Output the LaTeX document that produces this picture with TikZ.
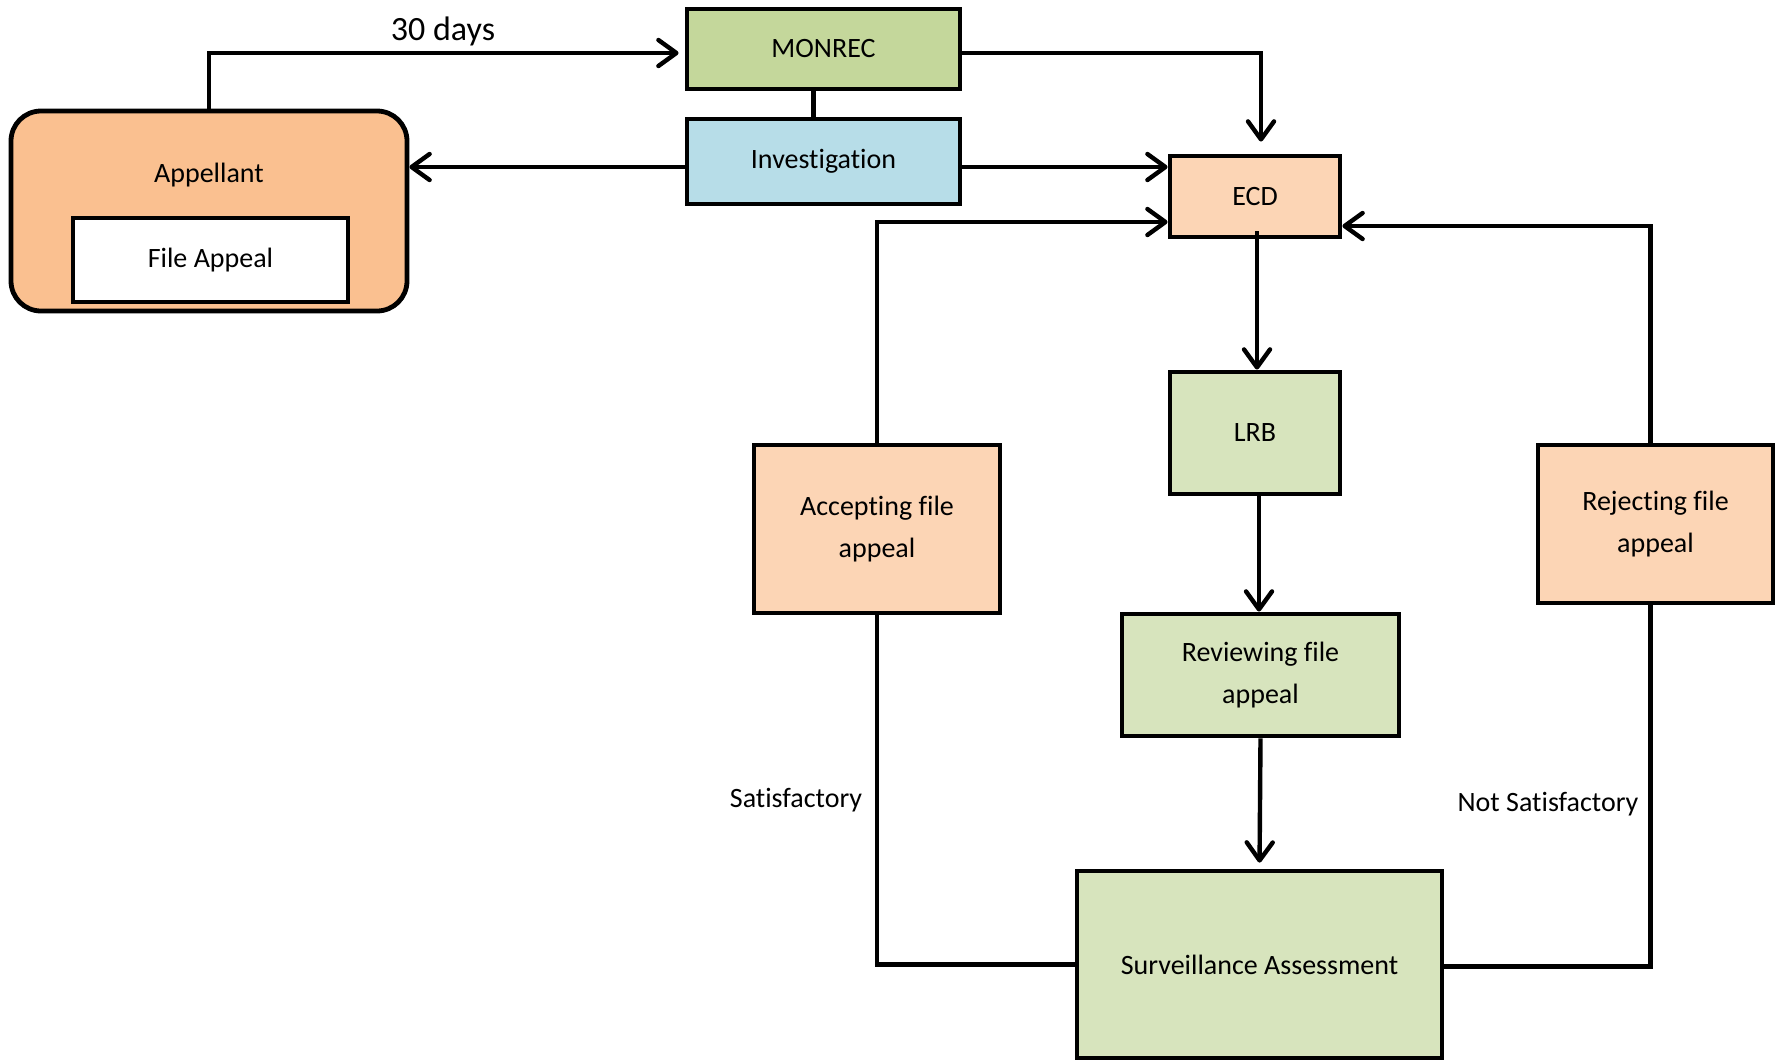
\documentclass[tikz,border=0pt]{standalone}
\usepackage{fontspec}
\setmainfont{Carlito}[Ligatures={NoCommon}]
\usetikzlibrary{arrows.meta,calc}
\definecolor{cmonrec}{HTML}{C4D79B}
\definecolor{cinv}{HTML}{B7DDE8}
\definecolor{capp}{HTML}{FAC090}
\definecolor{corange}{HTML}{FCD5B5}
\definecolor{cgreen}{HTML}{D7E4BD}
\tikzset{
  box/.style={draw=black,line width=2.4pt,inner sep=0pt,align=center,font=\fontsize{14}{21}\selectfont},
  conn/.style={line width=2.2pt},
  arr/.style={conn,-{Straight Barb[length=9pt,width=13pt,line width=2.2pt,round]}},
  lbl/.style={font=\fontsize{14}{16}\selectfont,inner sep=0pt}
}
\begin{document}
\begin{tikzpicture}[x=0.5pt,y=-0.5pt]
\useasboundingbox (0,0) rectangle (1781,1061);
% nodes
\node[box,fill=cmonrec,minimum width=136.5pt,minimum height=40pt] (monrec) at (823.5,49) {MONREC};
\node[box,fill=cinv,minimum width=136.5pt,minimum height=42.5pt] (inv) at (823.5,161.5) {Investigation};
\node[box,fill=capp,rounded corners=15pt,minimum width=198pt,minimum height=100pt] (app) at (209,211) {};
\node[lbl] (applbl) at (209,175) {Appellant};
\node[box,fill=white,minimum width=137.5pt,minimum height=42pt] (fa) at (210.5,260) {File Appeal};
\node[box,fill=corange,minimum width=85pt,minimum height=40.5pt] (ecd) at (1255,196.5) {ECD};
\node[box,fill=cgreen,minimum width=85pt,minimum height=61pt] (lrb) at (1255,433) {LRB};
\node[box,fill=cgreen,minimum width=138.5pt,minimum height=61pt] (rev) at (1260.5,675) {Reviewing file\\appeal};
\node[box,fill=cgreen,minimum width=182.5pt,minimum height=93.5pt] (surv) at (1259.5,964.5) {Surveillance Assessment};
\node[box,fill=corange,minimum width=123pt,minimum height=84pt] (acc) at (877,529) {Accepting file\\appeal};
\node[box,fill=corange,minimum width=117.5pt,minimum height=79pt] (rej) at (1655.5,524) {Rejecting file\\appeal};
% labels
\node[font=\fontsize{17}{20}\selectfont,inner sep=0pt] (days) at (443,31) {30 days};
\node[lbl] (sat) at (796,800) {Satisfactory};
\node[lbl] (nsat) at (1548,804) {Not Satisfactory};
% connectors
\draw[arr,shorten >=3pt] (app.north) |- ($(monrec.west)+(0,4)$);
\draw[arr,shorten >=6pt] ($(monrec.east)+(0,4)$) -| ($(ecd.north)+(6,0)$);
\draw[conn] ($(monrec.south)+(-10,0)$) -- ($(inv.north)+(-10,0)$);
\draw[arr] ($(inv.west)+(0,5.5)$) coordinate (t1) -- (t1 -| app.east);
\draw[arr] ($(inv.east)+(0,5.5)$) coordinate (t2) -- (t2 -| ecd.west);
\draw[arr] (acc.north) |- ($(ecd.west)+(0,25.5)$);
\draw[arr] ($(rej.north)+(-5,0)$) |- ($(ecd.east)+(0,29.5)$);
\draw[arr] ($(ecd.south)+(2,-8)$) -- ($(lrb.north)+(2,0)$);
\coordinate (l1) at ($(lrb.south)+(4,0)$);
\draw[arr] (l1) -- (l1 |- rev.north);
\draw[arr,shorten >=3pt] (rev.south) -- (surv.north);
\draw[conn] (surv.west) -| (acc.south);
\draw[conn] ($(surv.east)+(0,2)$) -| ($(rej.south)+(-5,0)$);
\end{tikzpicture}
\end{document}
